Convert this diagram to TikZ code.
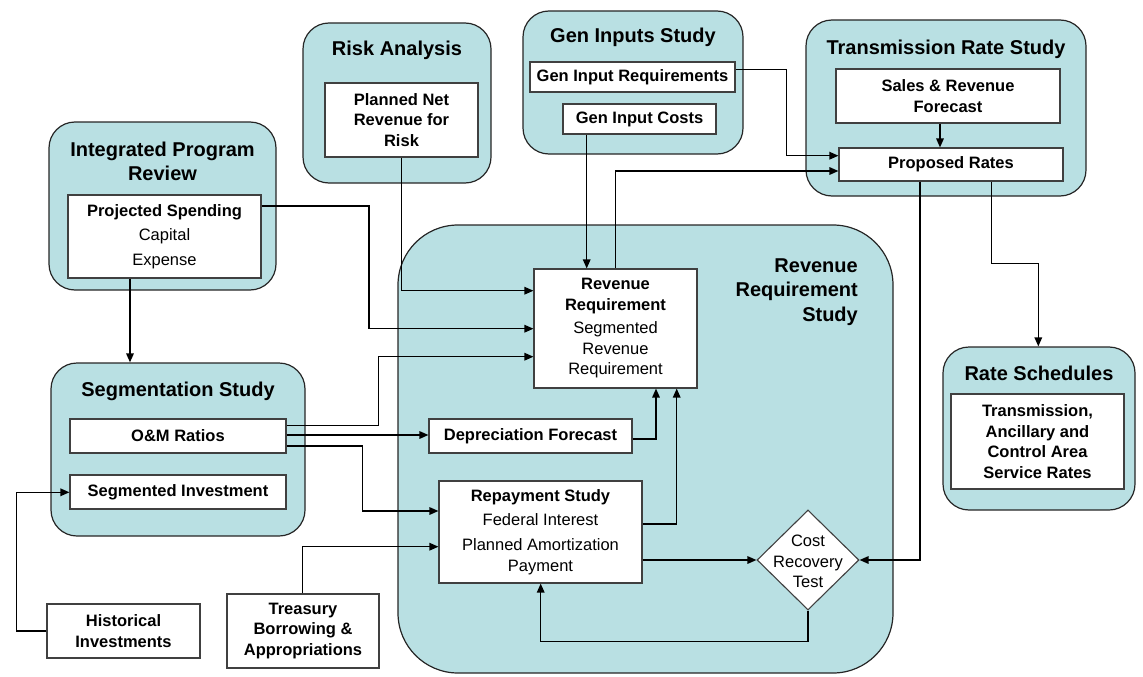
\documentclass[tikz,border=0pt]{standalone}
\usepackage{fontspec}
\setmainfont{Liberation Sans}
\usetikzlibrary{arrows.meta,shapes.geometric,calc}
\definecolor{cbg}{RGB}{185,224,227}
\newcommand{\myfs}{\fontsize{16.5}{20.5}\selectfont}
\newcommand{\myft}{\fontsize{20}{23.5}\selectfont\bfseries}
\begin{document}
\begin{tikzpicture}[x=1pt,y=-1pt,
 cont/.style={draw=black!85, fill=cbg, line width=1.2pt, rounded corners=26pt},
 ibox/.style={draw=black!75, fill=white, line width=1.1pt, inner sep=0pt, align=center, font=\myfs},
 ttl/.style={font=\myft, align=center, inner sep=0pt},
 arr/.style={line width=1.5pt, -{Triangle[length=9pt,width=7.5pt]}}]
\useasboundingbox (0,0) rectangle (1143,677);

% containers
\node[cont, minimum width=227pt, minimum height=168pt] (ipr) at (162.5,206) {};
\node[cont, minimum width=188pt, minimum height=160pt] (risk) at (397,103) {};
\node[cont, minimum width=220pt, minimum height=143pt] (gen) at (633,82.5) {};
\node[cont, minimum width=280pt, minimum height=176pt] (trs) at (946,108) {};
\node[cont, minimum width=192pt, minimum height=163pt] (rs) at (1039,428.5) {};
\node[cont, rounded corners=60pt, minimum width=495pt, minimum height=448pt] (rrs) at (645.5,449) {};
\node[cont, minimum width=254pt, minimum height=173pt] (seg) at (178,449.5) {};

% titles
\node[ttl] (iprt) at (162.5,161.5) {Integrated Program\\Review};
\node[ttl] (riskt) at (397,50) {Risk Analysis};
\node[ttl] (gent) at (633,37) {Gen Inputs Study};
\node[ttl] (trst) at (946,49) {Transmission Rate Study};
\node[ttl] (rst) at (1039,373) {Rate Schedules};
\node[ttl, align=right, anchor=east, font=\fontsize{20}{24.5}\selectfont\bfseries] (rrst) at (858,292) {Revenue\\Requirement\\Study};
\node[ttl] (segt) at (178,391.7) {Segmentation Study};

% inner boxes
\node[ibox, minimum width=193pt, minimum height=83pt] (ps) at (164.5,236.5) {\textbf{Projected Spending}\\[4pt]Capital\\[4pt]Expense};
\node[ibox, font=\myfs\bfseries, minimum width=153pt, minimum height=74pt] (pnr) at (401.5,120) {Planned Net\\Revenue for\\Risk};
\node[ibox, font=\myfs\bfseries, minimum width=205pt, minimum height=30pt] (gir) at (632.5,77) {Gen Input Requirements};
\node[ibox, font=\myfs\bfseries, minimum width=153pt, minimum height=30pt] (gic) at (639.5,119) {Gen Input Costs};
\node[ibox, font=\myfs\bfseries, minimum width=224pt, minimum height=54pt] (srf) at (948,96) {Sales \& Revenue\\Forecast};
\node[ibox, font=\myfs\bfseries, minimum width=224pt, minimum height=33pt] (pr) at (951,164.5) {Proposed Rates};
\node[ibox, font=\myfs\bfseries, minimum width=173pt, minimum height=95pt] (tacs) at (1037.5,441.5) {Transmission,\\Ancillary and\\Control Area\\Service Rates};
\node[ibox, minimum width=163pt, minimum height=119pt] (rr) at (615.5,328.5) {\textbf{Revenue}\\\textbf{Requirement}\\[3pt]Segmented\\Revenue\\Requirement};
\node[ibox, font=\myfs\bfseries, minimum width=203pt, minimum height=34pt] (df) at (530.5,436) {Depreciation Forecast};
\node[ibox, minimum width=203pt, minimum height=102pt] (rep) at (540.5,532) {\textbf{Repayment Study}\\[3.5pt]Federal Interest\\[4.5pt]Planned Amortization\\Payment};
\node[draw=black!75, fill=white, line width=1.1pt, diamond, inner sep=0pt, minimum width=102pt, minimum height=100pt] (crt) at (808,560) {};
\node[font=\myfs, align=center, inner sep=0pt] (crtt) at (808,561.5) {Cost\\Recovery\\Test};
\node[ibox, font=\myfs\bfseries, minimum width=216pt, minimum height=34pt] (om) at (178,436) {O\&M Ratios};
\node[ibox, font=\myfs\bfseries, minimum width=216pt, minimum height=34pt] (si) at (178,492) {Segmented Investment};
\node[ibox, font=\myfs\bfseries, minimum width=152pt, minimum height=74pt] (tr) at (303,631) {Treasury\\Borrowing \&\\Appropriations};
\node[ibox, font=\myfs\bfseries, minimum width=153pt, minimum height=54pt] (hist) at (123.5,631) {Historical\\Investments};

% connectors
\draw[arr] (ps.east |- 0,206) -- (369,206) -- (369,328.7) -- (rr.west |- 0,328.7);
\draw[arr] (pnr.south) -- (401.5,290.7) -- (rr.west |- 0,290.7);
\draw[arr] (gic.south -| 586.7,0) -- (rr.north -| 586.7,0);
\draw[arr] (rr.north -| 615.7,0) -- (615.7,171) -- (pr.west |- 0,171);
\draw[arr] (gir.east |- 0,69.3) -- (786.7,69.3) -- (786.7,155.7) -- (pr.west |- 0,155.7);
\draw[arr] (srf.south -| 940,0) -- (pr.north -| 940,0);
\draw[arr] (pr.south -| 991.7,0) -- (991.7,263.3) -- (1038.3,263.3) -- (rs.north -| 1038.3,0);
\draw[arr] (pr.south -| 920,0) -- (920,560) -- (crt.east);
\draw[arr] (om.east |- 0,425.7) -- (378.3,425.7) -- (378.3,356.7) -- (rr.west |- 0,356.7);
\draw[arr] (om.east |- 0,435) -- (df.west |- 0,435);
\draw[arr] (om.east |- 0,446) -- (362.7,446) -- (362.7,511) -- (rep.west |- 0,511);
\draw[arr] (df.east |- 0,439) -- (656,439) -- (rr.south -| 656,0);
\draw[arr] (rep.east |- 0,524) -- (676.7,524) -- (rr.south -| 676.7,0);
\draw[arr] (rep.east |- 0,560) -- (crt.west);
\draw[arr] (crt.south) -- (808,641.7) -- (540.7,641.7) -- (rep.south -| 540.7,0);
\draw[arr] (tr.north -| 302.7,0) -- (302.7,546.7) -- (rep.west |- 0,546.7);
\draw[arr] (hist.west |- 0,631) -- (16.7,631) -- (16.7,492.3) -- (si.west |- 0,492.3);
\draw[arr] (ps.south -| 130,0) -- (seg.north -| 130,0);
\end{tikzpicture}
\end{document}
